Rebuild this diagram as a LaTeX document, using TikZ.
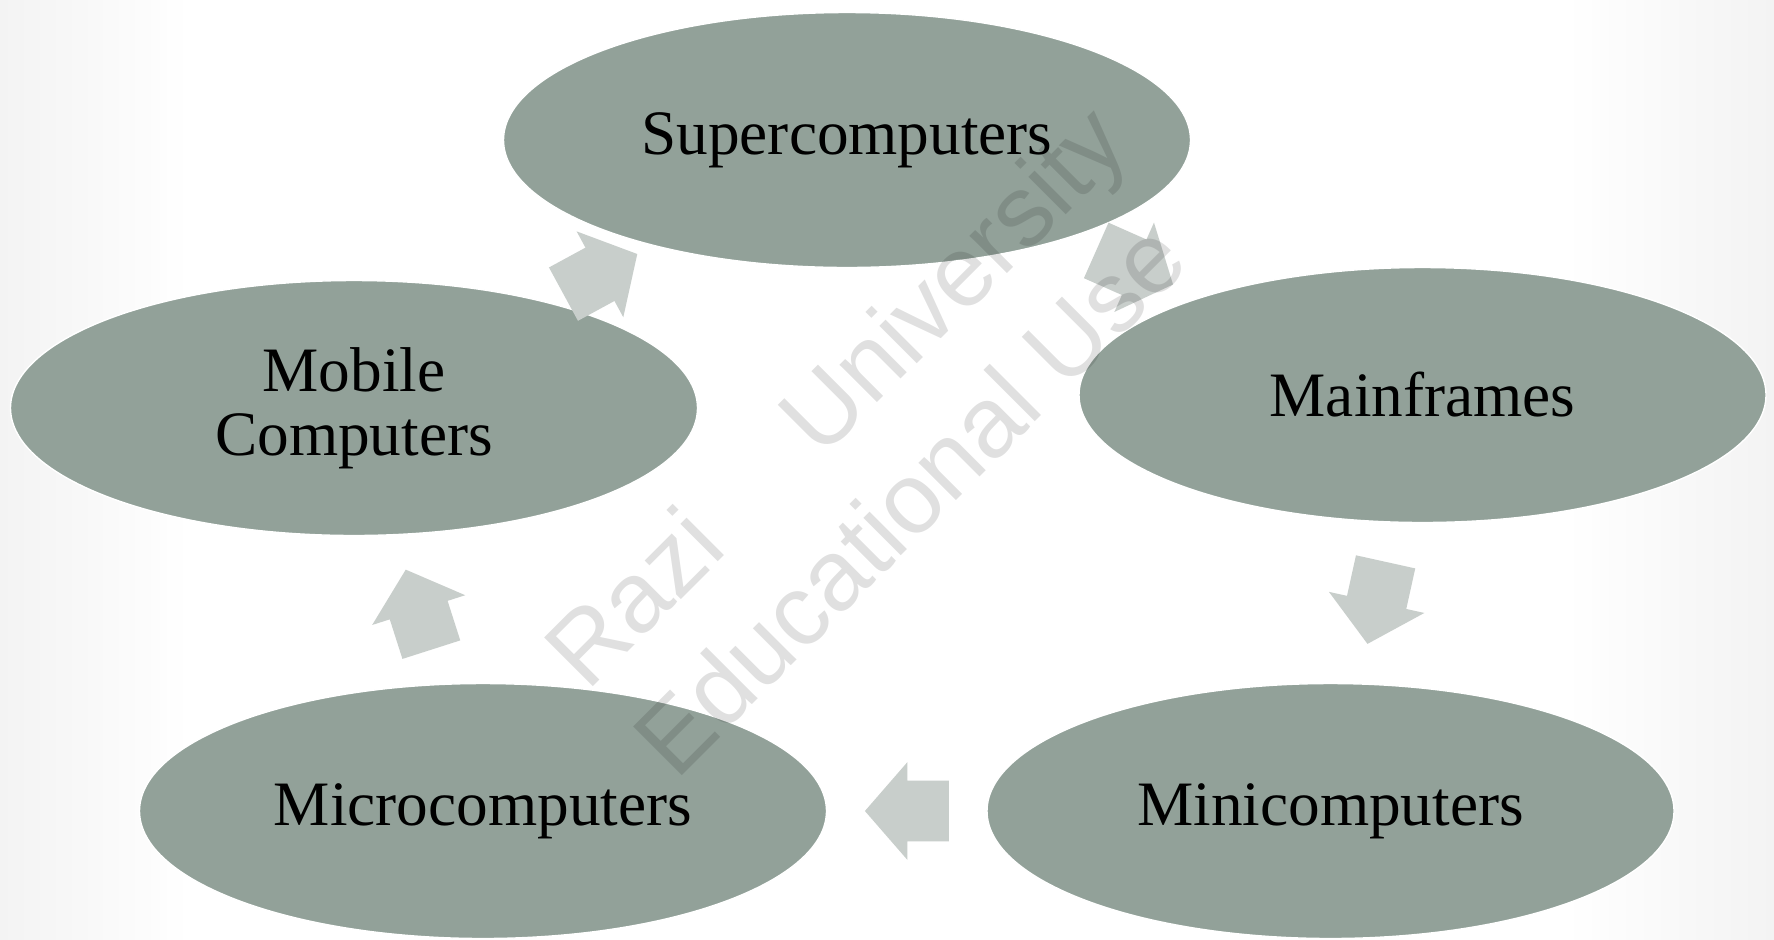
\documentclass[tikz,border=0pt]{standalone}
\usepackage{fontspec}
\setmainfont{Liberation Serif}
\newfontfamily\wmfont{Liberation Sans}
\usetikzlibrary{shapes.geometric,shapes.arrows,calc}
\definecolor{ovalfill}{RGB}{146,161,153}
\definecolor{arrowfill}{RGB}{200,206,203}
\definecolor{edgegray}{RGB}{243,243,243}

% block arrow centred half-way between two stages, pointing from #1 to #2
\newcommand\cyclearrow[3]{%
  \path ($(#1)!0.5!(#2)!0.85cm!(#1)$) --
    node[flowarrow, pos=0, anchor=tail] (#3) {} ($(#1)!0.5!(#2)$);}

\begin{document}
\begin{tikzpicture}[
  stage/.style={ellipse, fill=ovalfill, draw=white, line width=0.8pt,
    minimum width=13.74cm, minimum height=5.1cm, inner sep=0pt,
    align=center, font=\fontsize{36}{36.5}\selectfont, text=black},
  flowarrow/.style={single arrow, fill=arrowfill, draw=none,
    inner xsep=0pt, inner ysep=0.6cm,
    minimum height=1.68cm,
    single arrow head extend=0.37cm, single arrow tip angle=98,
    sloped, allow upside down},
  watermark/.style={font=\wmfont\fontsize{57}{60}\selectfont, text=black,
    text opacity=0.12, rotate=45, anchor=base west, inner sep=0pt}
]
% canvas and faint side vignette
\useasboundingbox (0,0) rectangle (35.48,-18.78);
\fill[white] (0,0) rectangle (35.48,-18.78);
\shade[left color=edgegray, right color=white] (0,0) rectangle (3.8,-18.78);
\shade[left color=white, right color=edgegray] (31.3,0) rectangle (35.48,-18.78);

% the five classes of computers
\node[stage] (sup)   at (16.94,-2.80)  {Supercomputers};
\node[stage] (main)  at (28.45,-7.90)  {Mainframes};
\node[stage] (mini)  at (26.61,-16.22) {Minicomputers};
\node[stage] (micro) at (9.66,-16.22)  {Microcomputers};
\node[stage] (mob)   at (7.08,-8.16)   {Mobile\\Computers};

% block arrows running round the cycle
\cyclearrow{mob}{sup}{a1}
\cyclearrow{sup}{main}{a2}
\cyclearrow{main}{mini}{a3}
\cyclearrow{mini}{micro}{a4}
\cyclearrow{micro}{mob}{a5}

% diagonal watermark
\node[watermark] (wm1) at (11.75,-13.86)   {Razi\hspace{1.3em}University};
\node[watermark] (wm2) at (13.52,-15.628) {Educational Use};
\end{tikzpicture}
\end{document}
